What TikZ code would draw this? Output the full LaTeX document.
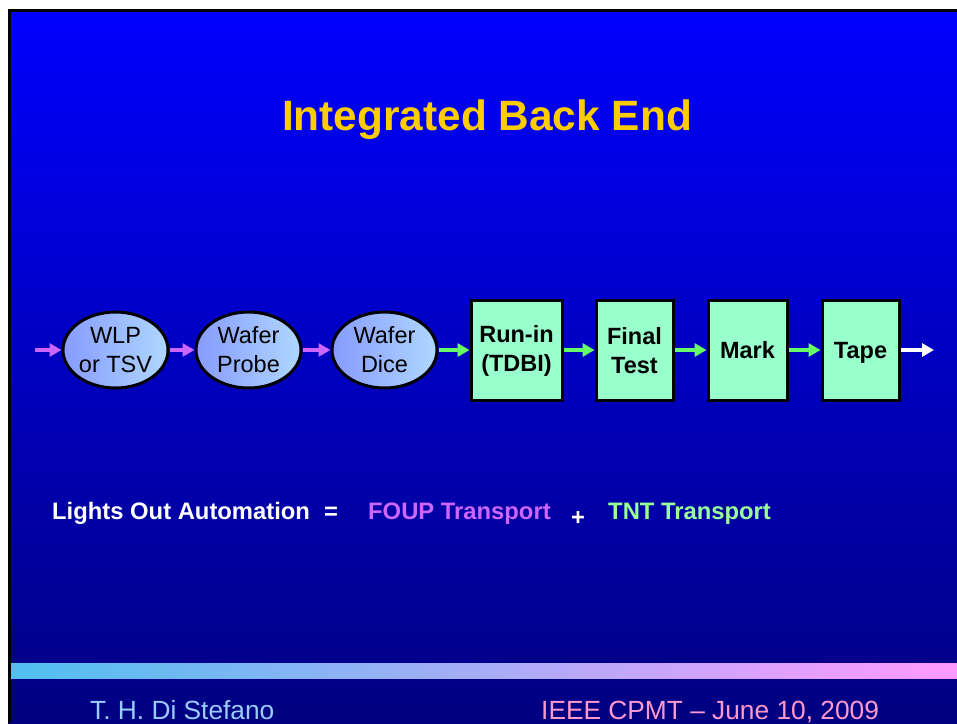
\documentclass[tikz,border=0pt]{standalone}
\usepackage{fontspec}
\setmainfont{Liberation Sans}
\usetikzlibrary{shapes.geometric,arrows.meta}
\definecolor{bgtop}{RGB}{0,0,255}
\definecolor{bgbot}{RGB}{0,0,128}
\definecolor{titleyellow}{RGB}{255,204,0}
\definecolor{boxgreen}{RGB}{153,255,204}
\definecolor{ellleft}{RGB}{135,155,255}
\definecolor{ellright}{RGB}{175,215,255}
\definecolor{foupcol}{RGB}{204,102,255}
\definecolor{tntcol}{RGB}{153,255,153}
\definecolor{arrgreen}{RGB}{102,255,102}
\definecolor{bandL}{RGB}{80,192,240}
\definecolor{bandM}{RGB}{195,175,245}
\definecolor{bandR}{RGB}{255,153,255}
\definecolor{footblue}{RGB}{153,204,255}
\definecolor{footpink}{RGB}{255,153,204}
\tikzset{
  wafernode/.style={ellipse,draw=black,line width=3pt,left color=ellleft,right color=ellright,
    minimum width=105pt,minimum height=76pt,inner sep=0pt,align=center,
    font=\fontsize{23.5}{29}\selectfont},
  stepbox/.style={rectangle,draw=black,line width=3pt,fill=boxgreen,
    minimum height=100pt,inner sep=0pt,align=center,
    font=\fontsize{23.5}{29}\selectfont\bfseries},
  flowarrow/.style={line width=4pt,-{Triangle[length=12pt,width=13pt]}},
  foupflow/.style={flowarrow,draw=foupcol},
  tntflow/.style={flowarrow,draw=arrgreen},
  outflow/.style={flowarrow,draw=white},
  lineA/.style={font=\fontsize{23.8}{28}\selectfont\bfseries,inner sep=0pt,anchor=base west},
  foot/.style={font=\fontsize{26.3}{30}\selectfont,inner sep=0pt,anchor=base west}
}
\begin{document}
\begin{tikzpicture}[x=1pt,y=-1pt]
\useasboundingbox (0,0) rectangle (957,723);
\fill[white] (0,0) rectangle (957,723);
\shade[top color=bgtop,bottom color=bgbot] (8,9) rectangle (957,723);
\draw[black,line width=3pt] (9.5,723) -- (9.5,10.5) -- (957,10.5);
% band
\shade[left color=bandL,middle color=bandM,right color=bandR] (11,663) rectangle (957,678);
% title
\node[font=\fontsize{42.4}{48}\selectfont\bfseries,text=titleyellow,inner sep=0pt,anchor=base] (title) at (487,130) {Integrated Back End};
% process nodes
\node[wafernode] (wlp) at (115.5,350) {WLP\\or TSV};
\node[wafernode] (probe) at (248.5,350) {Wafer\\Probe};
\node[wafernode] (dice) at (384.5,350) {Wafer\\Dice};
\node[stepbox,minimum width=91pt] (runin) at (516.5,350.5) {Run-in\\(TDBI)};
\node[stepbox,minimum width=77pt] (final) at (634.5,350.5) {Final\\Test};
\node[stepbox,minimum width=79pt] (mark) at (747.5,350.5) {Mark};
\node[stepbox,minimum width=77pt,text depth=0pt] (tape) at (860.5,350.5) {Tape};
\coordinate (inlet) at (35,350);
\coordinate (outlet) at (934,350);
\draw[foupflow] (inlet) -- (wlp.west);
\draw[foupflow] (wlp.east) -- (probe.west);
\draw[foupflow] (probe.east) -- (dice.west);
\draw[tntflow] (dice.east) -- (runin.west |- dice.east);
\draw[tntflow] (runin.east |- dice.east) -- (final.west |- dice.east);
\draw[tntflow] (final.east |- dice.east) -- (mark.west |- dice.east);
\draw[tntflow] (mark.east |- dice.east) -- (tape.west |- dice.east);
\draw[outflow] (tape.east |- dice.east) -- (outlet);
% automation line
\node[lineA,text=white] (lights) at (52,519) {Lights Out Automation};
\node[lineA,text=white] (eq) at (324,519) {=};
\node[lineA,text=foupcol] (foup) at (368,519) {FOUP Transport};
\node[lineA,text=white] (plus) at (571,525) {+};
\node[lineA,text=tntcol] (tnt) at (608,519) {TNT Transport};
% footer
\node[foot,text=footblue] (author) at (90,719) {T. H. Di Stefano};
\node[foot,text=footpink] (conf) at (541,719) {IEEE CPMT – June 10, 2009};
\end{tikzpicture}
\end{document}
